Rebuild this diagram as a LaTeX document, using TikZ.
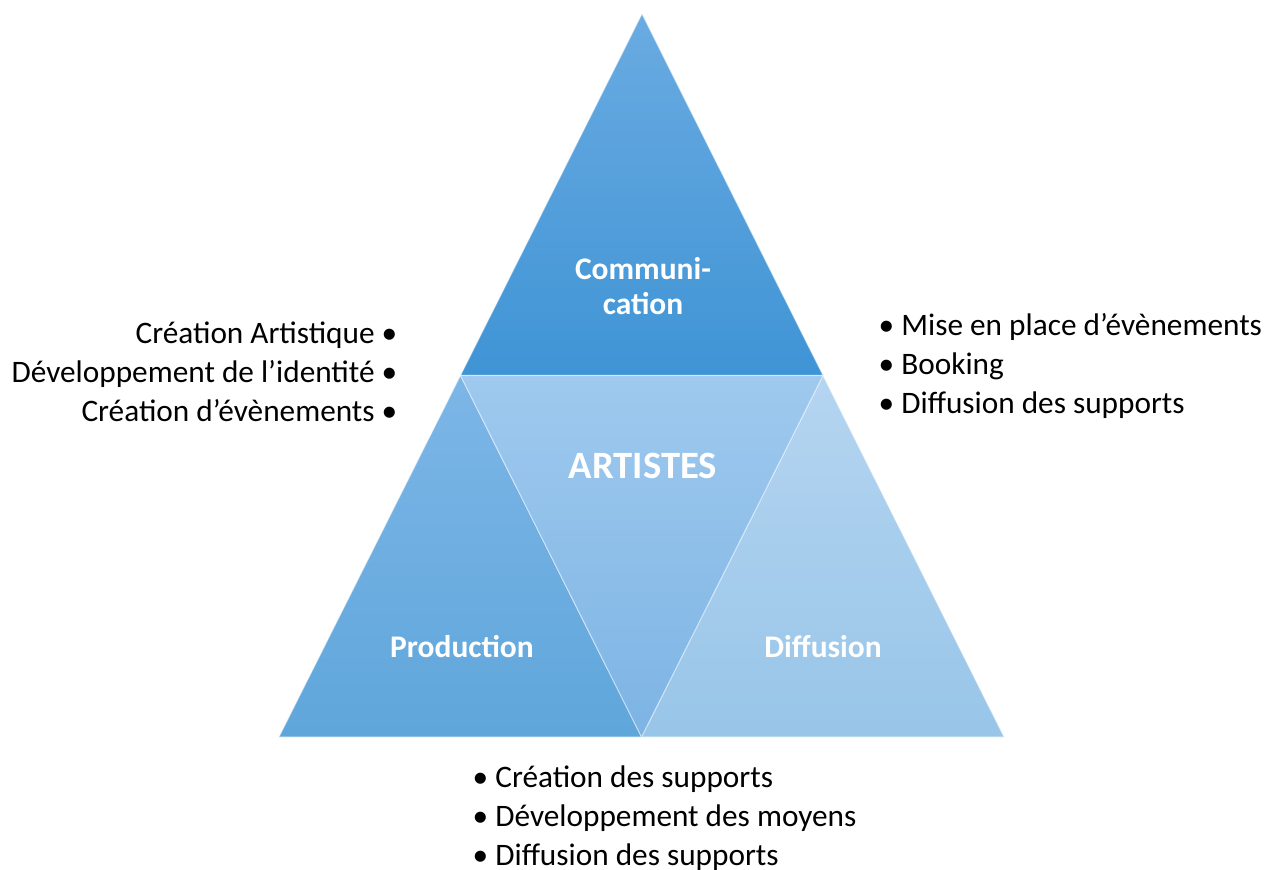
\documentclass[tikz,border=0pt]{standalone}
\usepackage{fontspec}
\setmainfont{Carlito}
\usetikzlibrary{positioning}
\definecolor{commTop}{HTML}{6AABE2}
\definecolor{commBot}{HTML}{3F94D5}
\definecolor{prodTop}{HTML}{7DB6E7}
\definecolor{prodBot}{HTML}{5FA6DB}
\definecolor{artTop}{HTML}{9FC9EE}
\definecolor{artBot}{HTML}{7DB4E4}
\definecolor{diffTop}{HTML}{B5D5F1}
\definecolor{diffBot}{HTML}{98C5E8}
\tikzset{%
  % Specifications for style of nodes:
       part/.style = {draw=white, draw opacity=0.45, line width=0.3pt},
      title/.style = {text=white, font=\fontsize{8.95}{9.9}\selectfont\bfseries,
                      align=center},
     center/.style = {text=white, font=\fontsize{11}{14}\selectfont\bfseries},
   itemlist/.style = {font=\fontsize{8.9}{11.1}\selectfont, inner sep=0pt},
}
\begin{document}
\begin{tikzpicture}
  \useasboundingbox (0,0) rectangle (12.65,8.69);

  % Corners of the big triangle and midpoints of its sides
  \coordinate (apex)   at (6.42,8.55);
  \coordinate (left)   at (2.79,1.32);
  \coordinate (right)  at (10.04,1.32);
  \coordinate (midL)   at (4.605,4.935);
  \coordinate (midR)   at (8.23,4.935);
  \coordinate (midB)   at (6.415,1.32);

  % The four triangles
  \shade[part, top color=commTop, bottom color=commBot]
        (apex) -- (midL) -- (midR) -- cycle;
  \shade[part, top color=prodTop, bottom color=prodBot]
        (midL) -- (left) -- (midB) -- cycle;
  \shade[part, top color=diffTop, bottom color=diffBot]
        (midR) -- (midB) -- (right) -- cycle;
  \shade[part, top color=artTop, bottom color=artBot]
        (midL) -- (midR) -- (midB) -- cycle;

  % Labels inside the triangles
  \node (comm)    [title]  at (6.43,5.83) {Communi-\\cation};
  \node (artists) [center] at (6.43,4.03) {ARTISTES};
  \node (prod)    [title]  at (4.62,2.22) {Production};
  \node (diff)    [title]  at (8.23,2.22) {Diffusion};

  % Lists around the triangle
  \node (listL) [itemlist, anchor=east, align=right] at (3.98,4.97)
        {Création Artistique \textbullet\\
         Développement de l’identité \textbullet\\
         Création d’évènements \textbullet};
  \node (listR) [itemlist, anchor=west, align=left] at (8.78,5.03)
        {\textbullet{} Mise en place d’évènements\\
         \textbullet{} Booking\\
         \textbullet{} Diffusion des supports};
  \node (listB) [itemlist, anchor=west, align=left] at (4.72,0.51)
        {\textbullet{} Création des supports\\
         \textbullet{} Développement des moyens\\
         \textbullet{} Diffusion des supports};
\end{tikzpicture}
\end{document}
